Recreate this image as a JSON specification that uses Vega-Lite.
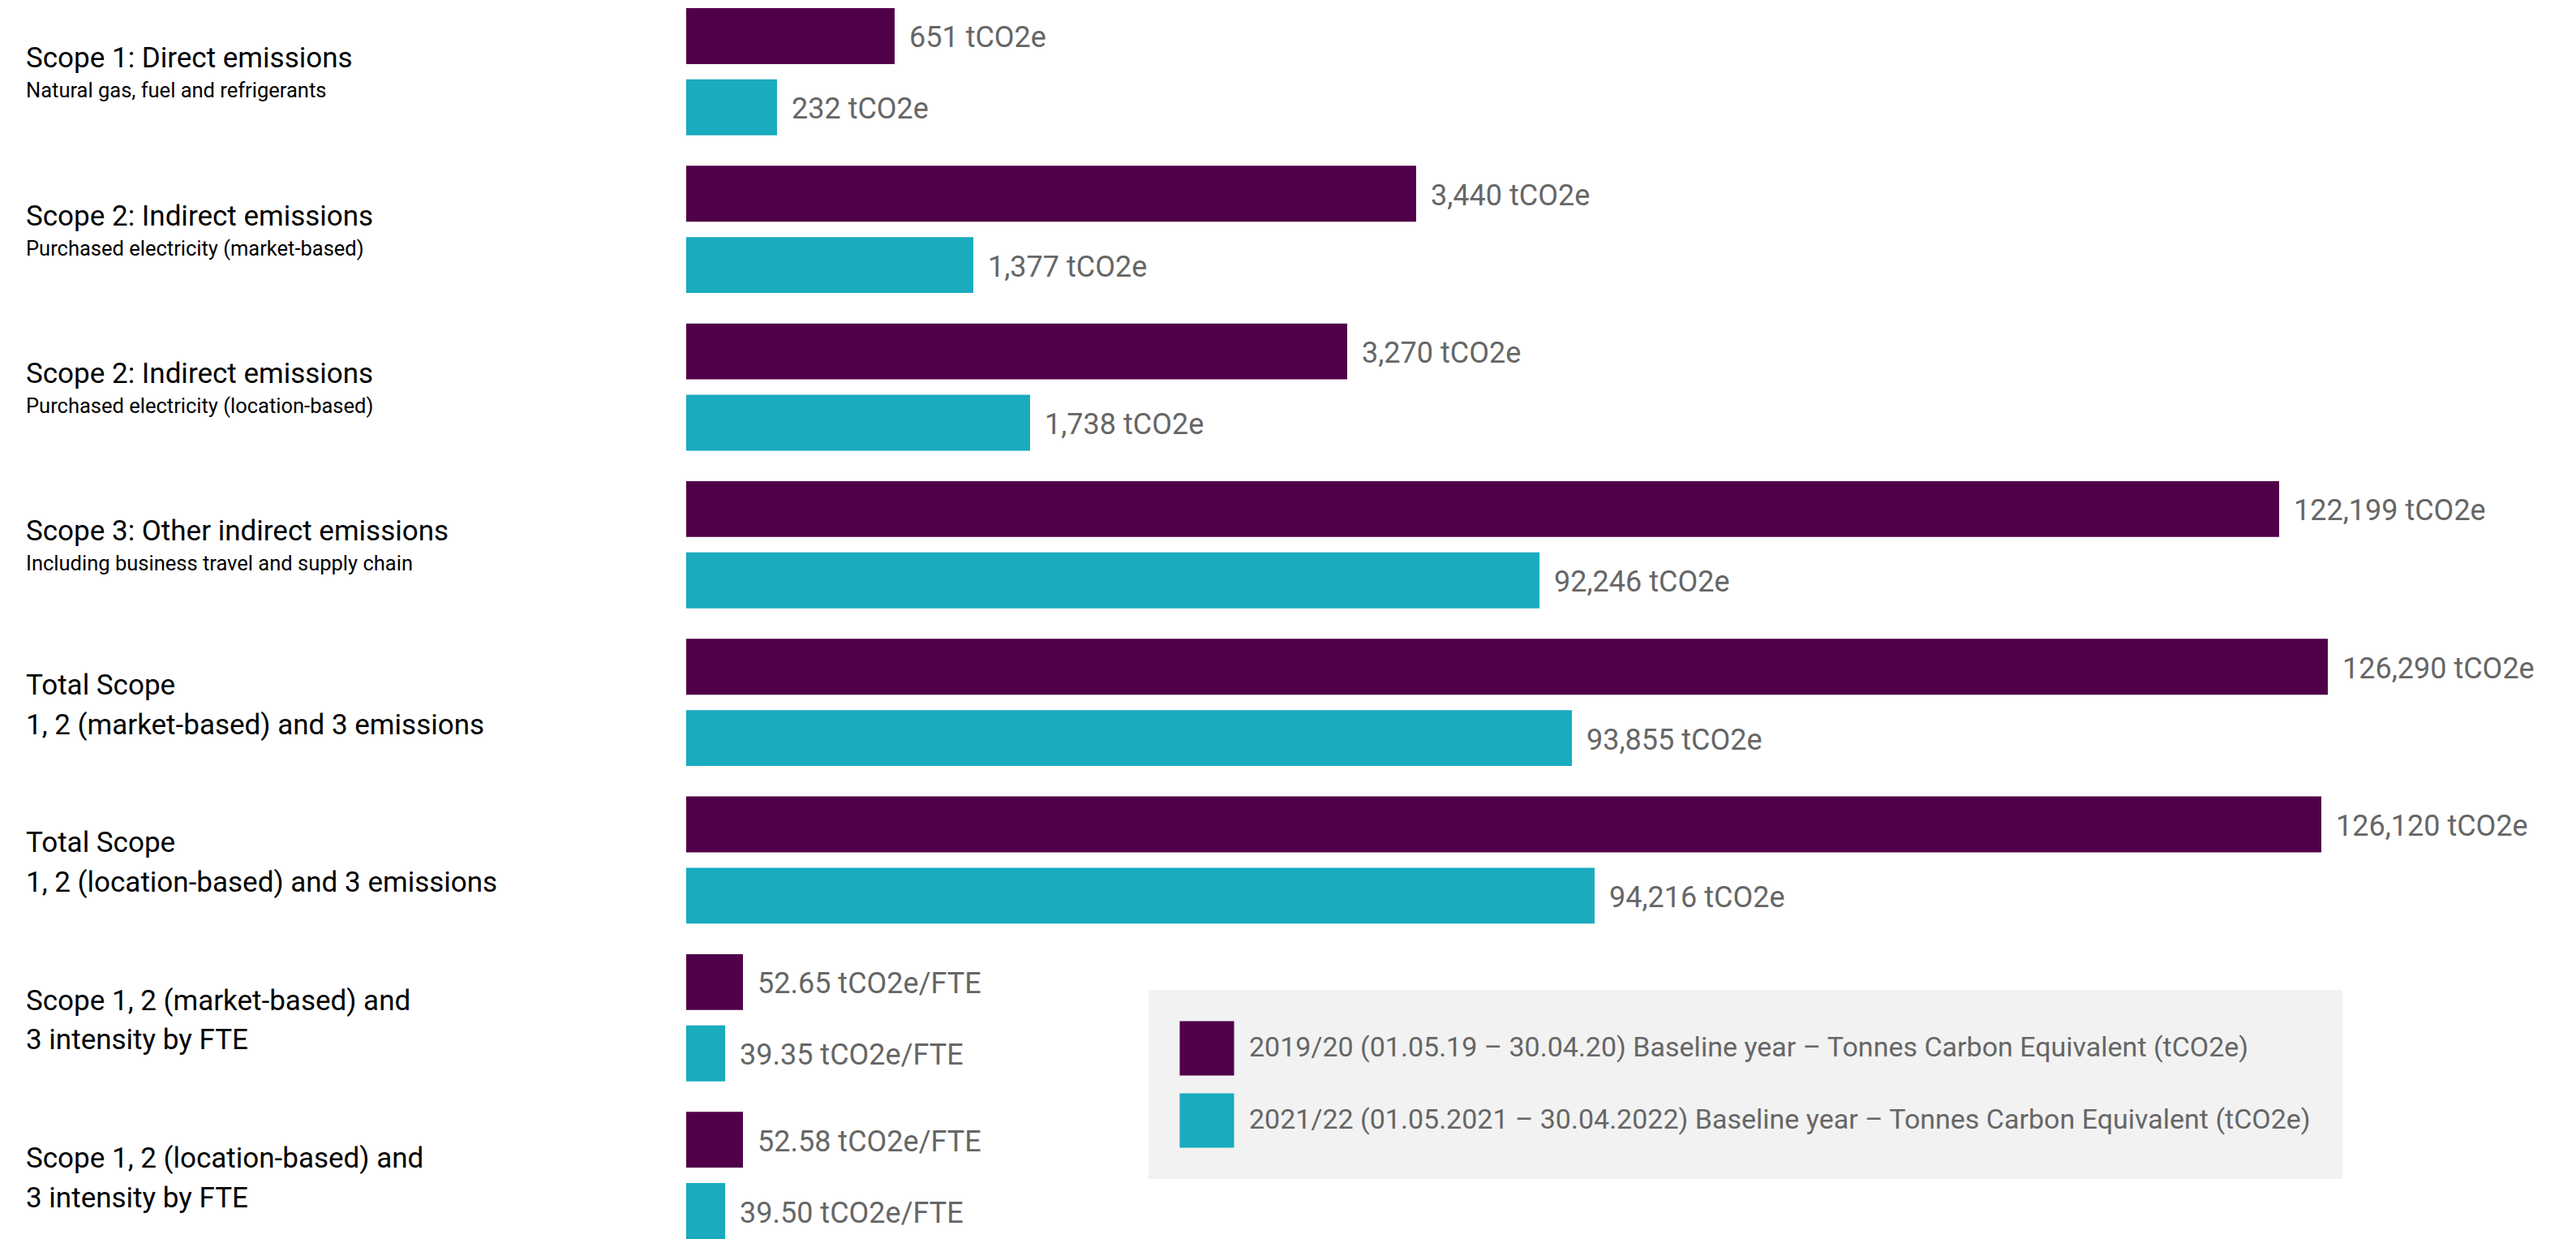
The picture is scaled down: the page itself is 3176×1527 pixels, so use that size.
{
  "$schema": "https://vega.github.io/schema/vega-lite/v6.json",
  "padding": {"left": 32, "top": 0, "right": 0, "bottom": 0},
  "spacing": 0,
  "config": {"view": {"stroke": null}, "concat": {"spacing": 0}, "font": "Roboto"},
  "datasets": {
    "bars": [
      {"cat": "S1", "series": "2019/20 (01.05.19 – 30.04.20) Baseline year – Tonnes Carbon Equivalent (tCO2e)", "value": 651, "label": "651 tCO2e"},
      {"cat": "S1", "series": "2021/22 (01.05.2021 – 30.04.2022) Baseline year – Tonnes Carbon Equivalent (tCO2e)", "value": 232, "label": "232 tCO2e"},
      {"cat": "S2m", "series": "2019/20 (01.05.19 – 30.04.20) Baseline year – Tonnes Carbon Equivalent (tCO2e)", "value": 3440, "label": "3,440 tCO2e"},
      {"cat": "S2m", "series": "2021/22 (01.05.2021 – 30.04.2022) Baseline year – Tonnes Carbon Equivalent (tCO2e)", "value": 1377, "label": "1,377 tCO2e"},
      {"cat": "S2l", "series": "2019/20 (01.05.19 – 30.04.20) Baseline year – Tonnes Carbon Equivalent (tCO2e)", "value": 3270, "label": "3,270 tCO2e"},
      {"cat": "S2l", "series": "2021/22 (01.05.2021 – 30.04.2022) Baseline year – Tonnes Carbon Equivalent (tCO2e)", "value": 1738, "label": "1,738 tCO2e"},
      {"cat": "S3", "series": "2019/20 (01.05.19 – 30.04.20) Baseline year – Tonnes Carbon Equivalent (tCO2e)", "value": 122199, "label": "122,199 tCO2e"},
      {"cat": "S3", "series": "2021/22 (01.05.2021 – 30.04.2022) Baseline year – Tonnes Carbon Equivalent (tCO2e)", "value": 92246, "label": "92,246 tCO2e"},
      {"cat": "Tm", "series": "2019/20 (01.05.19 – 30.04.20) Baseline year – Tonnes Carbon Equivalent (tCO2e)", "value": 126290, "label": "126,290 tCO2e"},
      {"cat": "Tm", "series": "2021/22 (01.05.2021 – 30.04.2022) Baseline year – Tonnes Carbon Equivalent (tCO2e)", "value": 93855, "label": "93,855 tCO2e"},
      {"cat": "Tl", "series": "2019/20 (01.05.19 – 30.04.20) Baseline year – Tonnes Carbon Equivalent (tCO2e)", "value": 126120, "label": "126,120 tCO2e"},
      {"cat": "Tl", "series": "2021/22 (01.05.2021 – 30.04.2022) Baseline year – Tonnes Carbon Equivalent (tCO2e)", "value": 94216, "label": "94,216 tCO2e"},
      {"cat": "Im", "series": "2019/20 (01.05.19 – 30.04.20) Baseline year – Tonnes Carbon Equivalent (tCO2e)", "value": 52.65, "label": "52.65 tCO2e/FTE"},
      {"cat": "Im", "series": "2021/22 (01.05.2021 – 30.04.2022) Baseline year – Tonnes Carbon Equivalent (tCO2e)", "value": 39.35, "label": "39.35 tCO2e/FTE"},
      {"cat": "Il", "series": "2019/20 (01.05.19 – 30.04.20) Baseline year – Tonnes Carbon Equivalent (tCO2e)", "value": 52.58, "label": "52.58 tCO2e/FTE"},
      {"cat": "Il", "series": "2021/22 (01.05.2021 – 30.04.2022) Baseline year – Tonnes Carbon Equivalent (tCO2e)", "value": 39.50, "label": "39.50 tCO2e/FTE"}
    ],
    "labels": [
      {"cat": "S1", "head": "Scope 1: Direct emissions", "sub": "Natural gas, fuel and refrigerants"},
      {"cat": "S2m", "head": "Scope 2: Indirect emissions", "sub": "Purchased electricity (market-based)"},
      {"cat": "S2l", "head": "Scope 2: Indirect emissions", "sub": "Purchased electricity (location-based)"},
      {"cat": "S3", "head": "Scope 3: Other indirect emissions", "sub": "Including business travel and supply chain"},
      {"cat": "Tm", "head": ["Total Scope", "1, 2 (market-based) and 3 emissions"], "sub": null},
      {"cat": "Tl", "head": ["Total Scope", "1, 2 (location-based) and 3 emissions"], "sub": null},
      {"cat": "Im", "head": ["Scope 1, 2 (market-based) and", "3 intensity by FTE"], "sub": null},
      {"cat": "Il", "head": ["Scope 1, 2 (location-based) and", "3 intensity by FTE"], "sub": null}
    ]
  },
  "hconcat": [
    {
      "width": 814,
      "height": 1527,
      "data": {"name": "labels"},
      "encoding": {
        "y": {"field": "cat", "type": "nominal", "axis": null,
          "scale": {"type": "band", "domain": ["S1", "S2m", "S2l", "S3", "Tm", "Tl", "Im", "Il"], "paddingInner": 0.1932, "paddingOuter": 0.0257, "align": 1}},
        "x": {"value": 0}
      },
      "layer": [
        {
          "transform": [{"filter": "datum.sub != null"}],
          "mark": {"type": "text", "align": "left", "baseline": "middle", "fontSize": 35, "font": "Roboto", "color": "#000000", "dy": -16},
          "encoding": {"text": {"field": "head"}}
        },
        {
          "transform": [{"filter": "datum.sub == null"}],
          "mark": {"type": "text", "align": "left", "baseline": "middle", "fontSize": 35, "font": "Roboto", "color": "#000000", "lineHeight": 48.5, "dy": -20.5},
          "encoding": {"text": {"field": "head"}}
        },
        {
          "transform": [{"filter": "datum.sub != null"}],
          "mark": {"type": "text", "align": "left", "baseline": "middle", "fontSize": 25.5, "font": "Roboto", "color": "#000000", "dy": 24},
          "encoding": {"text": {"field": "sub"}}
        }
      ]
    },
    {
      "width": 2330,
      "height": 1527,
      "data": {"name": "bars"},
      "encoding": {
        "y": {"field": "cat", "type": "nominal", "axis": null,
          "scale": {"type": "band", "domain": ["S1", "S2m", "S2l", "S3", "Tm", "Tl", "Im", "Il"], "paddingInner": 0.1932, "paddingOuter": 0.0257, "align": 1}},
        "yOffset": {"field": "series", "type": "nominal",
          "scale": {"domain": ["2019/20 (01.05.19 – 30.04.20) Baseline year – Tonnes Carbon Equivalent (tCO2e)", "2021/22 (01.05.2021 – 30.04.2022) Baseline year – Tonnes Carbon Equivalent (tCO2e)"], "paddingInner": 0.216, "paddingOuter": 0}},
        "x": {"field": "value", "type": "quantitative", "axis": null,
          "scale": {"type": "linear", "zero": false, "nice": false,
            "domain": [0, 39.35, 39.5, 52.58, 52.65, 232, 651, 1377, 1738, 3270, 3440, 92246, 93855, 94216, 122199, 126120, 126290],
            "range": [0, 48, 48, 70, 70, 112, 257, 354, 424, 815, 900, 1052, 1092, 1120, 1964, 2016, 2024]}}
      },
      "layer": [
        {
          "mark": {"type": "bar", "clip": true},
          "encoding": {
            "color": {"field": "series", "type": "nominal",
              "scale": {"domain": ["2019/20 (01.05.19 – 30.04.20) Baseline year – Tonnes Carbon Equivalent (tCO2e)", "2021/22 (01.05.2021 – 30.04.2022) Baseline year – Tonnes Carbon Equivalent (tCO2e)"], "range": ["#4f0049", "#1aabbf"]},
              "legend": {
                "orient": "none", "legendX": 1384, "legendY": 1220, "direction": "vertical", "title": null,
                "fillColor": "#f2f2f2", "padding": 38, "symbolType": "square", "symbolSize": 4500,
                "symbolStrokeWidth": 0, "symbolOpacity": 1, "labelFontSize": 34, "labelFont": "Roboto",
                "labelColor": "#666666", "labelOffset": 18, "rowPadding": 21, "labelLimit": 2000,
                "encode": {"symbols": {"update": {
                  "fill": {"value": {"expr": "indexof(datum.value, '2021') === 0 ? '#52a9bb' : '#4f0049'"}}
                }}}
              }
            }
          }
        },
        {
          "mark": {"type": "text", "align": "left", "baseline": "middle", "dx": 18, "dy": 3, "fontSize": 36, "font": "Roboto", "color": "#666666"},
          "encoding": {"text": {"field": "label", "type": "nominal"}}
        }
      ]
    }
  ]
}
